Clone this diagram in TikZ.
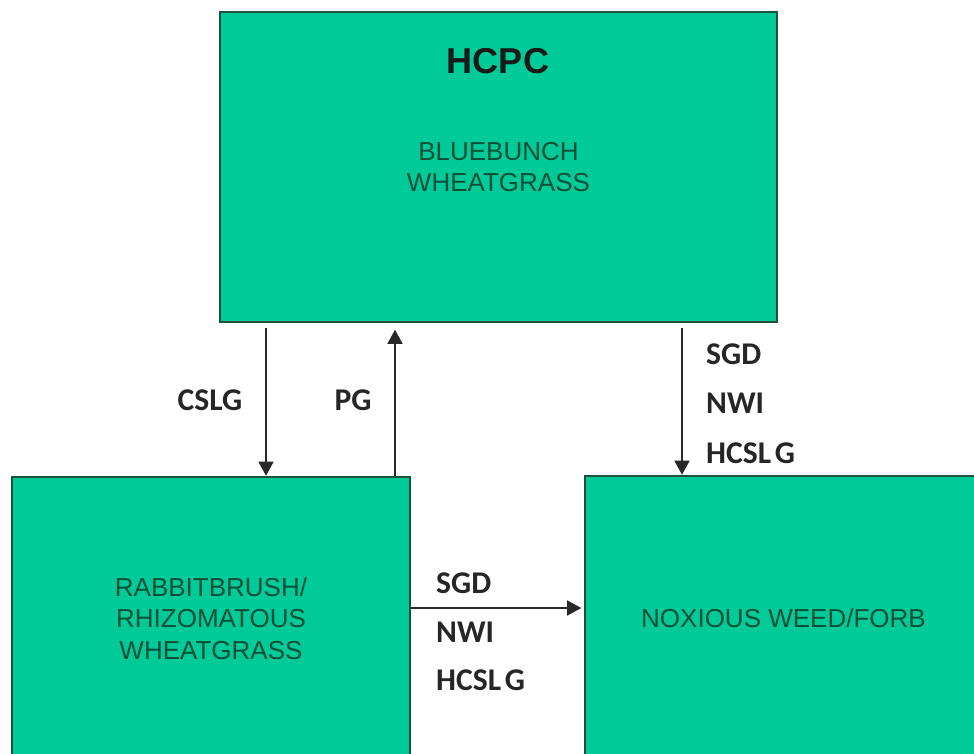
\documentclass[tikz,border=0pt]{standalone}
\usepackage{fontspec}
\setmainfont{Liberation Sans}
\newfontfamily\lblfont{Carlito}
\usetikzlibrary{arrows.meta,positioning}
\definecolor{boxfill}{RGB}{0,203,152}
\definecolor{boxline}{RGB}{30,80,62}
\definecolor{boxtext}{RGB}{14,78,56}
\definecolor{arrowgray}{RGB}{40,40,40}
\begin{document}
\begin{tikzpicture}[
    box/.style={rectangle, draw=boxline, line width=1.4pt, fill=boxfill, inner sep=0pt, align=center,
      text=boxtext, font=\fontsize{14.8}{18}\selectfont},
    ttl/.style={font=\fontsize{20.5}{24}\selectfont\bfseries, text=black!90},
    lab/.style={font=\fontsize{18}{21}\selectfont\lblfont\bfseries, text=black!85},
    arr/.style={-{Triangle[width=8.5pt,length=8pt]}, draw=arrowgray, line width=0.9pt}]
  \useasboundingbox (0,0) rectangle (19.48,-15.06);
  \node[box, minimum width=11.14cm, minimum height=6.2cm] (hcpcbox) at (9.97,-3.34) {BLUEBUNCH\\WHEATGRASS};
  \node[box, minimum width=7.96cm, minimum height=5.66cm] (rabbit) at (4.22,-12.37) {RABBITBRUSH/\\RHIZOMATOUS\\WHEATGRASS};
  \node[box, minimum width=7.94cm, minimum height=5.68cm] (noxious) at (15.67,-12.36) {NOXIOUS WEED/FORB};
  \node[ttl] (hcpc) at (9.96,-1.22) {HCPC};
  % transitions
  \coordinate (cslgx) at (5.32,0); \coordinate (pgx) at (7.9,0); \coordinate (sgdx) at (13.64,0);
  \coordinate (sideY) at (0,-12.16);
  \draw[arr, shorten <=0.1cm] (hcpcbox.south -| cslgx) -- (rabbit.north -| cslgx);
  \draw[arr, shorten >=0.13cm] (rabbit.north -| pgx) -- (hcpcbox.south -| pgx);
  \draw[arr, shorten <=0.1cm] (hcpcbox.south -| sgdx) -- (noxious.north -| sgdx);
  \draw[arr, shorten >=0.05cm] (rabbit.east |- sideY) -- (noxious.west |- sideY);
  \node[lab] (cslg) at (4.2,-8.0) {CSLG};
  \node[lab] (pg) at (7.06,-8.0) {PG};
  \node[lab, anchor=west] (sgdA) at (14.0,-7.08) {SGD};
  \node[lab, anchor=west] (nwiA) at (14.0,-8.06) {NWI};
  \node[lab, anchor=west] (hcslgA) at (14.0,-9.06) {HCSL\kern2pt G};
  \node[lab, anchor=west] (sgdB) at (8.6,-11.66) {SGD};
  \node[lab, anchor=west] (nwiB) at (8.6,-12.64) {NWI};
  \node[lab, anchor=west] (hcslgB) at (8.6,-13.6) {HCSL\kern2pt G};
\end{tikzpicture}
\end{document}
